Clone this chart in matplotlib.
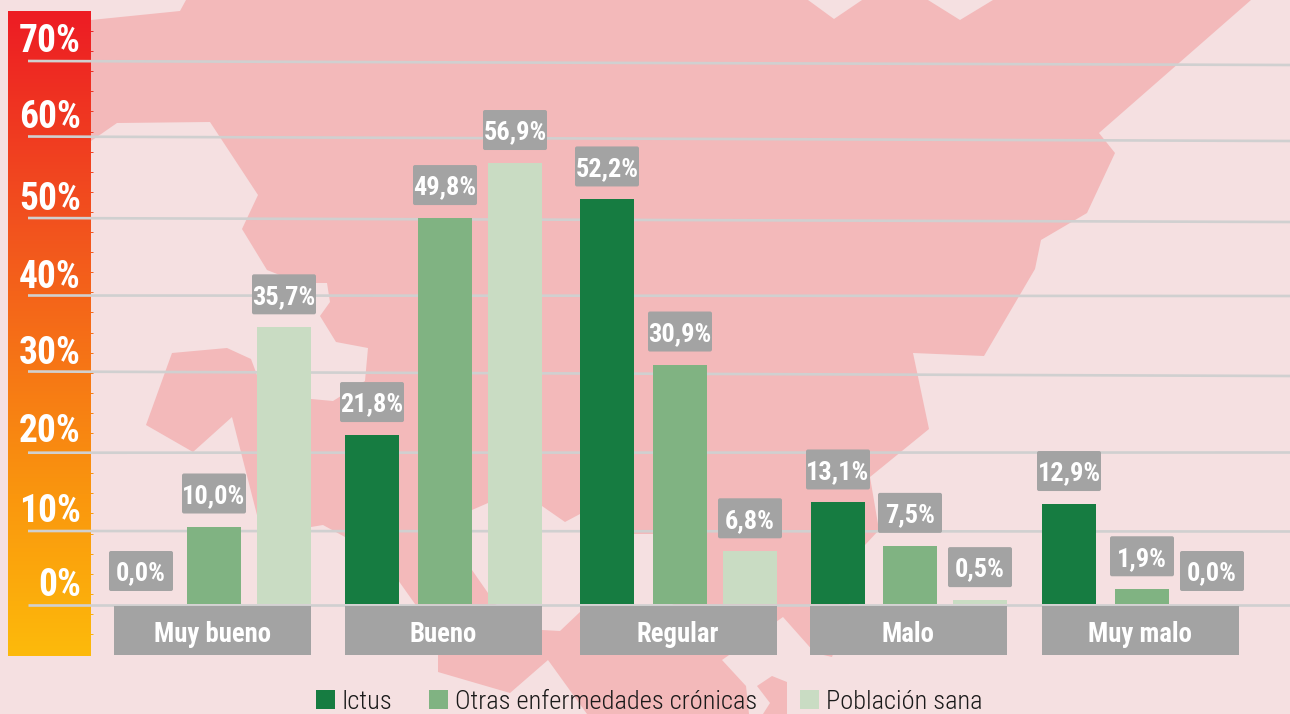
import matplotlib
matplotlib.use('Agg')
import matplotlib.pyplot as plt
from matplotlib.colors import LinearSegmentedColormap
from matplotlib.patches import FancyBboxPatch, Polygon, Rectangle
import numpy as np

# values
categories = ['Muy bueno', 'Bueno', 'Regular', 'Malo', 'Muy malo']
ictus = [0.0, 21.8, 52.2, 13.1, 12.9]
otras = [10.0, 49.8, 30.9, 7.5, 1.9]
sana = [35.7, 56.9, 6.8, 0.5, 0.0]
series_names = ['Ictus', 'Otras enfermedades crónicas', 'Población sana']
scale_labels = ['70%', '60%', '50%', '40%', '30%', '20%', '10%', '0%']

# layout, all in picture pixels
W, H = 1290, 714
BASE_PX = 604
PX_PER_PCT = 7.75
ictus_x = [141, 372, 607, 838, 1069]
otras_x = [214, 445, 680, 910, 1142]
sana_x = [284, 515, 750, 980, 1212]
band_left = [114, 345, 580, 810, 1042]
scale_text_y = [41, 118, 200, 277, 354, 431, 512, 586]
grid_left_y = [61, 136.5, 218, 295.5, 371.5, 452.7, 531, 605]
grid_right_y = [65, 141, 222, 296, 376, 452.5, 531.5, 605]
legend_box_x = [316, 429, 800]
legend_text_x = [342, 455, 826]

# styles
BG = '#F5E0E1'
MAP = '#F3B9BA'
GREY = '#A3A3A3'
GRID = '#D0D0D0'
colors = ['#167C41', '#80B382', '#C9DCC3']
FONT = ['Roboto Condensed', 'Roboto', 'DejaVu Sans']

# map shapes behind the chart
map_main = [(60, 23), (91, 20), (180, 11), (186, 0), (808, 0), (834, 19), (862, 0), (928, 0),
            (960, 20), (993, 0), (1251, 0), (1099, 133), (1115, 153), (1087, 213), (1041, 240),
            (1035, 269), (984, 356), (913, 353), (929, 429), (870, 477), (879, 530), (865, 545),
            (845, 620), (832, 657), (815, 653), (783, 617), (722, 660), (746, 686), (749, 714),
            (587, 714), (548, 660), (510, 693), (438, 672), (438, 653), (415, 604), (398, 580),
            (345, 537), (323, 525), (311, 527), (257, 515), (232, 417), (193, 452), (146, 425),
            (172, 353), (227, 348), (251, 359), (257, 375), (311, 399), (333, 401), (365, 381),
            (368, 348), (336, 342), (320, 316), (330, 302), (327, 283), (300, 283), (267, 270),
            (242, 229), (258, 195), (210, 122), (117, 123), (91, 141), (60, 160)]
map_hole = [(445, 530), (472, 510), (488, 503), (542, 506), (565, 522), (580, 514), (634, 534),
            (653, 534), (680, 600), (640, 625), (580, 612), (560, 631), (542, 630), (495, 604),
            (488, 593), (472, 570)]
map_island = [(757, 686), (772, 676), (787, 682), (787, 714), (763, 714), (770, 703)]

fig = plt.figure(figsize=(W / 100, H / 100), dpi=100, facecolor=BG)

back = fig.add_axes([0, 0, 1, 1])
back.set_xlim(0, W)
back.set_ylim(H, 0)
back.axis('off')
back.add_patch(Polygon(map_main, closed=True, fc=MAP, ec='none', zorder=1))
back.add_patch(Polygon(map_hole, closed=True, fc=BG, ec='none', zorder=1.1))
back.add_patch(Polygon(map_island, closed=True, fc=MAP, ec='none', zorder=1))

# red to yellow scale bar
ramp = LinearSegmentedColormap.from_list('ramp', [(0, '#ED1C24'), (0.33, '#F2521E'),
                                                  (0.75, '#FA960E'), (1, '#FDBA0B')])
back.imshow(np.linspace(0, 1, 256).reshape(-1, 1), cmap=ramp, aspect='auto',
            extent=(8, 91, 656, 11), zorder=2)
back.set_xlim(0, W)
back.set_ylim(H, 0)
for k in range(31):
    tick_y = 31 + 20.1 * k
    back.plot([90, 92.5], [tick_y, tick_y], color=ramp((tick_y - 11) / 645), lw=0.7, zorder=2,
              solid_capstyle='butt')

for yl, yr in zip(grid_left_y, grid_right_y):
    back.plot([28, W], [yl, yr], color=GRID, lw=1.9, zorder=3, solid_capstyle='butt')

for lab, y in zip(scale_labels, scale_text_y):
    back.text(81, y, lab, color='white', fontsize=27, fontweight='bold', family=FONT,
              ha='right', va='center', zorder=4)

# bars live on a percent axis lined up with the picture
ax = fig.add_axes([0, 0, 1, 1], facecolor='none')
ax.set_xlim(0, W)
ax.set_ylim((BASE_PX - H) / PX_PER_PCT, BASE_PX / PX_PER_PCT)
ax.axis('off')

for xs, vals, col in zip([ictus_x, otras_x, sana_x], [ictus, otras, sana], colors):
    ax.bar(xs, vals, width=54, color=col, linewidth=0, zorder=2)
    for x, v in zip(xs, vals):
        px, py = back.transData.inverted().transform(ax.transData.transform((x, v)))
        ax.add_patch(FancyBboxPatch((px - 30, py - 33 - 18), 60, 36,
                                    boxstyle='round,pad=2,rounding_size=2', fc=GREY, ec='none',
                                    transform=back.transData, zorder=3))
        ax.annotate(f'{v:.1f}%'.replace('.', ','), (x, v), xytext=(0, 33 * 0.72),
                    textcoords='offset points', color='white', fontsize=19,
                    fontweight='bold', family=FONT, ha='center', va='center_baseline', zorder=4)

for left, name in zip(band_left, categories):
    back.add_patch(Rectangle((left, 606), 197, 49, fc=GREY, ec='none', zorder=3.5))
    back.text(left + 98, 634, name, color='white', fontsize=19.3, fontweight='bold', family=FONT,
              ha='center', va='center', zorder=4)

for bx, tx, col, name in zip(legend_box_x, legend_text_x, colors, series_names):
    back.add_patch(Rectangle((bx, 690), 19, 19, fc=col, ec='none', zorder=4))
    back.text(tx, 709, name, color='#1A1A1A', fontsize=19, fontweight=300, family=FONT, ha='left',
              va='baseline', zorder=4)

fig.savefig('out.png', dpi=100, facecolor=BG)
